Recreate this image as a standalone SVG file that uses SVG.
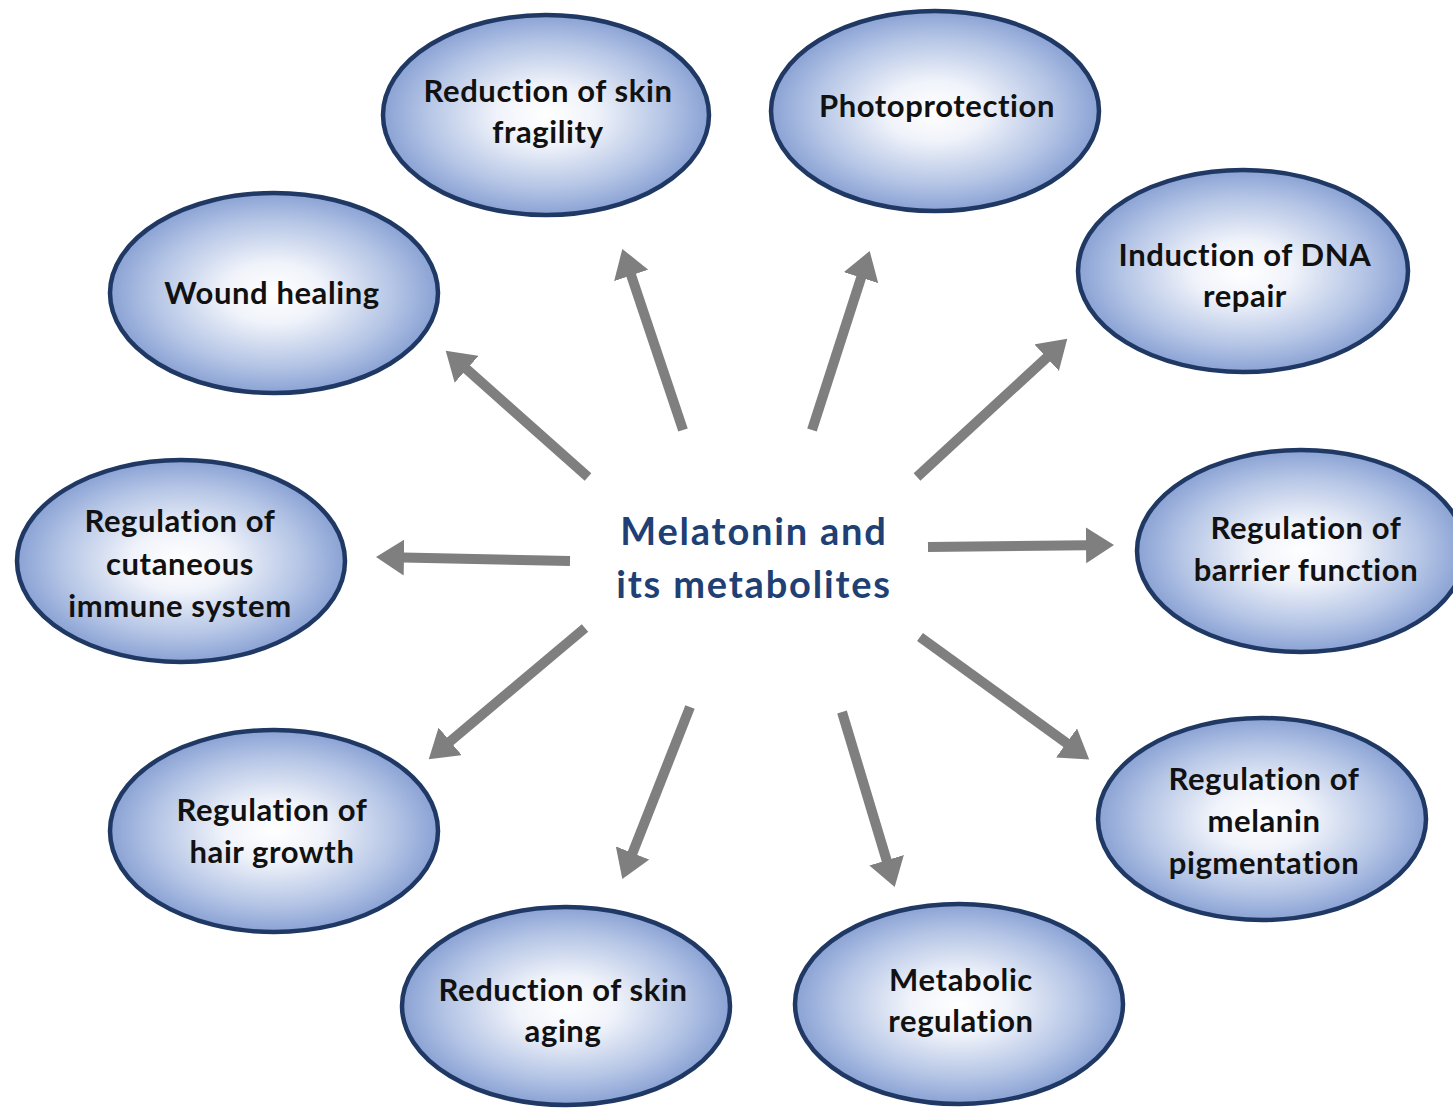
<svg xmlns="http://www.w3.org/2000/svg" width="1453" height="1108" viewBox="0 0 1453 1108">
<defs>
<radialGradient id="g" cx="50%" cy="50%" r="50%">
<stop offset="0" stop-color="#ffffff"/>
<stop offset="0.3" stop-color="#f0f3fa"/>
<stop offset="0.72" stop-color="#b6c6e6"/>
<stop offset="1" stop-color="#8aa2d4"/>
</radialGradient>
<marker id="ah" markerUnits="userSpaceOnUse" markerWidth="30" markerHeight="36" viewBox="0 0 30 36" refX="1" refY="18" orient="auto">
<path d="M0,0 L28,18 L0,36 z" fill="#7f7f7f"/>
</marker>
<style>
.n ellipse{fill:url(#g);stroke:#1f3864;stroke-width:4.5}
.n text{font-family:Lato,"Liberation Sans",sans-serif;font-weight:bold;font-size:31px;letter-spacing:0.6px;fill:#111;text-anchor:middle}
.c line{stroke:#7f7f7f;stroke-width:10;marker-end:url(#ah)}
.m{font-family:Lato,"Liberation Sans",sans-serif;font-weight:bold;font-size:38px;letter-spacing:1.8px;fill:#203f74;text-anchor:middle}
</style>
</defs>
<rect width="1453" height="1108" fill="#fff"/>
<g class="c">
<line x1="683" y1="430" x2="630.9" y2="274.5"/>
<line x1="812" y1="430" x2="861.4" y2="276.7"/>
<line x1="588" y1="477" x2="465.9" y2="368.6"/>
<line x1="917" y1="477" x2="1047.4" y2="357"/>
<line x1="570" y1="561" x2="403" y2="557.6"/>
<line x1="928" y1="547" x2="1087" y2="545.3"/>
<line x1="585" y1="628" x2="449.4" y2="742"/>
<line x1="690" y1="707" x2="632.2" y2="853.9"/>
<line x1="842" y1="712" x2="886.9" y2="861.2"/>
<line x1="920" y1="637" x2="1067.3" y2="743.6"/>
</g>
<g id="center"><text class="m" x="754" y="545">Melatonin and</text><text class="m" x="754" y="598">its metabolites</text></g>
<g id="n1" class="n"><ellipse cx="546" cy="115" rx="163" ry="100"/><text x="548" y="102">Reduction of skin</text><text x="548" y="143">fragility</text></g>
<g id="n2" class="n"><ellipse cx="935" cy="111" rx="164" ry="100"/><text x="937" y="117">Photoprotection</text></g>
<g id="n3" class="n"><ellipse cx="274" cy="293" rx="164" ry="100"/><text x="272" y="304">Wound healing</text></g>
<g id="n4" class="n"><ellipse cx="1243" cy="271" rx="165" ry="101"/><text x="1245" y="266">Induction of DNA</text><text x="1245" y="307">repair</text></g>
<g id="n5" class="n"><ellipse cx="181" cy="561" rx="164" ry="101"/><text x="180" y="532">Regulation of</text><text x="180" y="575">cutaneous</text><text x="180" y="617">immune system</text></g>
<g id="n6" class="n"><ellipse cx="1301" cy="551" rx="164" ry="101"/><text x="1306" y="539">Regulation of</text><text x="1306" y="581">barrier function</text></g>
<g id="n7" class="n"><ellipse cx="274" cy="831" rx="164" ry="101"/><text x="272" y="821">Regulation of</text><text x="272" y="863">hair growth</text></g>
<g id="n8" class="n"><ellipse cx="1262" cy="819" rx="164" ry="101"/><text x="1264" y="790">Regulation of</text><text x="1264" y="832">melanin</text><text x="1264" y="874">pigmentation</text></g>
<g id="n9" class="n"><ellipse cx="566" cy="1006" rx="164" ry="99"/><text x="563" y="1001">Reduction of skin</text><text x="563" y="1042">aging</text></g>
<g id="n10" class="n"><ellipse cx="959" cy="1004" rx="164" ry="100"/><text x="961" y="991">Metabolic</text><text x="961" y="1032">regulation</text></g>
</svg>
